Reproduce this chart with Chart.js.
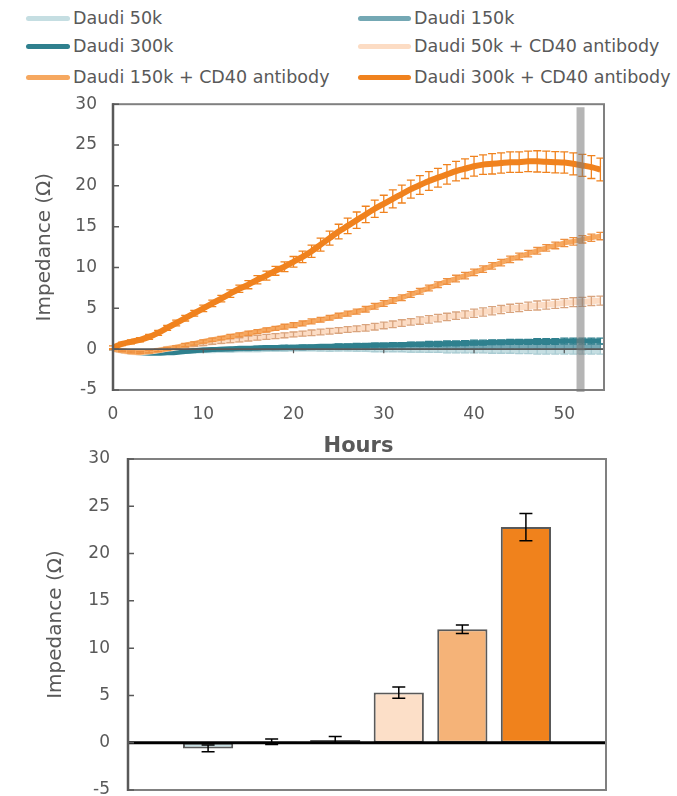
<!DOCTYPE html>
<html><head><meta charset="utf-8">
<script src="https://cdn.jsdelivr.net/npm/chart.js@4.4.1/dist/chart.umd.min.js"></script>
<style>
html,body{margin:0;padding:0;background:#fff;width:677px;height:796px;overflow:hidden;position:relative;font-family:"DejaVu Sans",sans-serif;}
#legend{position:absolute;left:0;top:0;width:677px;height:95px;}
.li{position:absolute;height:20px;display:flex;align-items:center;font-size:17.5px;color:#595959;white-space:nowrap;}
.li .sw{display:inline-block;height:5px;border-radius:3px;margin-right:3px;}
#c1{position:absolute;left:0;top:78px;}
#c2{position:absolute;left:0;top:430px;}
</style></head><body>
<div id="legend"></div>
<canvas id="c1" width="677" height="382"></canvas>
<canvas id="c2" width="677" height="420"></canvas>
<script>
// ---------- DATA ----------
const hours = [0,1,2,3,4,5,6,7,8,9,10,11,12,13,14,15,16,17,18,19,20,21,22,23,24,25,26,27,28,29,30,31,32,33,34,35,36,37,38,39,40,41,42,43,44,45,46,47,48,49,50,51,52,53,54];
const seriesNames = ["Daudi 50k","Daudi 150k","Daudi 300k","Daudi 50k + CD40 antibody","Daudi 150k + CD40 antibody","Daudi 300k + CD40 antibody"];
const seriesColors = ["#C5DEE2","#74A8B4","#2F808E","#FCDCC4","#F6A860","#F0821E"];
const errorColors = ["#A9CBD2","#5F98A5","#2F808E","#D9A47E","#EE9040","#F0821E"];

const daudi50k = [0,-0.2,-0.35,-0.4,-0.4,-0.4,-0.35,-0.3,-0.3,-0.25,
  -0.2,-0.2,-0.15,-0.15,-0.1,-0.1,-0.1,-0.05,-0.05,-0.05,
  0,0,0,0,-0.05,0,0,-0.05,-0.05,-0.1,
  -0.1,-0.1,-0.1,-0.15,-0.15,-0.15,-0.15,-0.2,-0.2,-0.2,
  -0.2,-0.2,-0.25,-0.25,-0.25,-0.25,-0.25,-0.3,-0.3,-0.3,
  -0.3,-0.3,-0.3,-0.3,-0.3];
const daudi150k = [0,-0.2,-0.35,-0.4,-0.4,-0.35,-0.3,-0.25,-0.2,-0.15,
  -0.1,-0.05,0,0,0.05,0.05,0.1,0.1,0.1,0.15,
  0.15,0.15,0.2,0.2,0.2,0.2,0.2,0.25,0.25,0.25,
  0.25,0.25,0.25,0.3,0.3,0.3,0.25,0.3,0.3,0.3,
  0.3,0.35,0.3,0.3,0.35,0.3,0.3,0.35,0.3,0.3,
  0.3,0.3,0.25,0.3,0.3];
const daudi300k = [0,-0.2,-0.35,-0.45,-0.5,-0.5,-0.45,-0.4,-0.3,-0.2,
  -0.1,-0.05,0,0.05,0.1,0.1,0.15,0.2,0.2,0.25,
  0.25,0.3,0.3,0.35,0.35,0.4,0.4,0.45,0.45,0.5,
  0.5,0.55,0.55,0.6,0.6,0.65,0.65,0.7,0.7,0.75,
  0.8,0.8,0.85,0.85,0.9,0.9,0.9,0.95,0.95,0.95,
  1.0,1.0,1.0,1.0,1.0];
const daudi50kCD40 = [0,-0.2,-0.35,-0.4,-0.3,-0.15,0.05,0.2,0.4,0.55,
  0.7,0.85,0.95,1.05,1.15,1.3,1.4,1.5,1.6,1.7,
  1.8,1.9,2.0,2.1,2.2,2.3,2.4,2.5,2.6,2.75,
  2.9,3.05,3.2,3.35,3.5,3.65,3.8,3.95,4.1,4.25,
  4.4,4.55,4.7,4.85,5.0,5.1,5.25,5.35,5.45,5.55,
  5.65,5.75,5.8,5.9,5.95];
const daudi150kCD40 = [0,-0.2,-0.35,-0.4,-0.3,-0.15,0.05,0.25,0.5,0.7,
  0.95,1.15,1.35,1.55,1.75,1.95,2.15,2.35,2.55,2.75,
  2.95,3.15,3.4,3.6,3.85,4.1,4.35,4.6,4.9,5.25,
  5.6,5.95,6.3,6.7,7.1,7.5,7.9,8.3,8.65,9.0,
  9.4,9.8,10.2,10.6,11.0,11.35,11.7,12.05,12.4,12.7,
  13.0,13.2,13.45,13.65,13.85];
const daudi300kCD40 = [0.2,0.65,0.9,1.15,1.5,2.0,2.6,3.2,3.8,4.4,
  5.0,5.6,6.2,6.8,7.4,7.9,8.5,9.0,9.6,10.1,
  10.7,11.3,12.0,12.8,13.6,14.4,15.1,15.8,16.5,17.2,
  17.8,18.4,19.0,19.6,20.1,20.6,21.0,21.4,21.8,22.1,
  22.4,22.6,22.7,22.8,22.9,22.9,23.0,23.0,22.95,22.9,
  22.85,22.7,22.5,22.3,22.0];

const err50k = [0.05,0.1,0.1,0.1,0.1,0.1,0.1,0.1,0.1,0.1,
  0.1,0.1,0.1,0.15,0.15,0.15,0.15,0.15,0.15,0.15,
  0.15,0.15,0.15,0.2,0.2,0.2,0.2,0.2,0.2,0.2,
  0.2,0.2,0.2,0.2,0.2,0.25,0.25,0.25,0.25,0.25,
  0.25,0.25,0.25,0.25,0.25,0.3,0.3,0.3,0.3,0.3,
  0.3,0.3,0.3,0.3,0.3];
const err150k = [0.05,0.1,0.1,0.1,0.1,0.1,0.1,0.1,0.1,0.1,
  0.1,0.1,0.15,0.15,0.15,0.15,0.15,0.15,0.15,0.15,
  0.15,0.2,0.2,0.2,0.2,0.2,0.2,0.2,0.2,0.2,
  0.2,0.2,0.2,0.25,0.25,0.25,0.25,0.25,0.25,0.25,
  0.25,0.25,0.25,0.3,0.3,0.3,0.3,0.3,0.3,0.3,
  0.3,0.3,0.3,0.3,0.3];
const err300k = [0.05,0.1,0.1,0.1,0.1,0.1,0.1,0.1,0.1,0.15,
  0.15,0.15,0.15,0.15,0.15,0.15,0.2,0.2,0.2,0.2,
  0.2,0.2,0.2,0.2,0.2,0.25,0.25,0.25,0.25,0.25,
  0.25,0.25,0.25,0.25,0.25,0.3,0.3,0.3,0.3,0.3,
  0.3,0.3,0.3,0.3,0.3,0.3,0.3,0.35,0.35,0.35,
  0.35,0.35,0.35,0.35,0.35];
const err50kCD40 = [0.05,0.1,0.1,0.15,0.15,0.15,0.2,0.2,0.2,0.2,
  0.25,0.25,0.25,0.25,0.25,0.3,0.3,0.3,0.3,0.3,
  0.3,0.3,0.35,0.35,0.35,0.35,0.35,0.35,0.4,0.4,
  0.4,0.4,0.4,0.4,0.45,0.45,0.45,0.45,0.45,0.45,
  0.5,0.5,0.5,0.5,0.5,0.5,0.5,0.55,0.55,0.55,
  0.55,0.55,0.55,0.55,0.55];
const err150kCD40 = [0.05,0.1,0.1,0.1,0.15,0.15,0.15,0.15,0.2,0.2,
  0.2,0.2,0.2,0.25,0.25,0.25,0.25,0.25,0.25,0.3,
  0.3,0.3,0.3,0.3,0.3,0.3,0.3,0.3,0.35,0.35,
  0.35,0.35,0.35,0.35,0.35,0.35,0.35,0.35,0.4,0.4,
  0.4,0.4,0.4,0.4,0.4,0.4,0.4,0.4,0.4,0.4,
  0.45,0.45,0.45,0.45,0.45];
const err300kCD40 = [0.2,0.2,0.25,0.25,0.3,0.3,0.3,0.35,0.35,0.35,
  0.4,0.4,0.4,0.45,0.45,0.5,0.5,0.55,0.55,0.6,
  0.65,0.7,0.75,0.8,0.85,0.9,0.95,1.0,1.0,1.05,
  1.05,1.1,1.1,1.1,1.15,1.15,1.15,1.2,1.2,1.2,
  1.2,1.2,1.25,1.25,1.25,1.25,1.25,1.3,1.3,1.3,
  1.3,1.35,1.35,1.4,1.4];

const markerHour = 51.8;

const barCategories = ["Daudi 50k","Daudi 150k","Daudi 300k","Daudi 50k + CD40 antibody","Daudi 150k + CD40 antibody","Daudi 300k + CD40 antibody"];
const barValues = [-0.6, 0.1, 0.3, 5.3, 12.0, 22.8];
const barErrors = [0.35, 0.3, 0.35, 0.6, 0.45, 1.45];
const barColors = ["#C4DDE1","#74A8B3","#2F6F7C","#FCDFC8","#F5B378","#F0821C"];

const yTicks = {min:-5, max:30, step:5};
const xTicks = {min:0, max:54.4, step:10};

// ---------- LEGEND (HTML) ----------
const legendEl = document.getElementById('legend');
const legCols = [{sw:26, w:44}, {sw:358, w:53}], legRows = [18, 46, 77];
seriesNames.forEach((n,i)=>{
  const c = legCols[i%2];
  const d = document.createElement('div');
  d.className='li';
  d.style.left = c.sw+'px';
  d.style.top = (legRows[Math.floor(i/2)]-10)+'px';
  const sw = document.createElement('span'); sw.className='sw';
  sw.style.background=seriesColors[i]; sw.style.width=c.w+'px';
  d.appendChild(sw);
  d.appendChild(document.createTextNode(n));
  legendEl.appendChild(d);
});

// ---------- PLUGINS ----------
const errorBars = {
  id:'errorBars',
  afterDatasetDraw(chart, args){
    const ds = chart.data.datasets[args.index];
    if(!ds.errs) return;
    const y = chart.scales.y, ctx = chart.ctx;
    ctx.save();
    ctx.strokeStyle = ds.errColor; ctx.lineWidth = ds.errWidth;
    ctx.beginPath();
    args.meta.data.forEach((el,i)=>{
      const raw = ds.data[i]; const v = (typeof raw==='object')? raw.y : raw;
      const e = ds.errs[i]; if(e==null) return;
      const px = el.x, yt = y.getPixelForValue(v+e), yb = y.getPixelForValue(v-e), hw = ds.capWidth/2;
      ctx.moveTo(px,yt); ctx.lineTo(px,yb);
      ctx.moveTo(px-hw,yt); ctx.lineTo(px+hw,yt);
      ctx.moveTo(px-hw,yb); ctx.lineTo(px+hw,yb);
    });
    ctx.stroke(); ctx.restore();
  }
};
const frame = {
  id:'frame',
  afterDatasetsDraw(chart, args, o){
    const {ctx, chartArea:a, scales:{x,y}} = chart;
    ctx.save();
    const y0 = y.getPixelForValue(0);
    ctx.strokeStyle = o.zeroColor; ctx.lineWidth = o.zeroWidth;
    ctx.beginPath(); ctx.moveTo(a.left,y0); ctx.lineTo(a.right,y0); ctx.stroke();
    if(o.xTickMarks){
      ctx.lineWidth = 1.2; ctx.beginPath();
      x.ticks.forEach(t=>{const px=x.getPixelForValue(t.value); ctx.moveTo(px,y0); ctx.lineTo(px,y0+4);});
      ctx.stroke();
    }
    ctx.strokeStyle = o.boxColor; ctx.lineWidth = 2;
    ctx.strokeRect(a.left, a.top, a.right-a.left, a.bottom-a.top);
    ctx.strokeStyle = o.axisColor; ctx.lineWidth = 2.5;
    ctx.beginPath(); ctx.moveTo(a.left,a.top-1); ctx.lineTo(a.left,a.bottom+1); ctx.stroke();
    ctx.lineWidth = 1.5; ctx.beginPath();
    y.ticks.forEach(t=>{const py=y.getPixelForValue(t.value); ctx.moveTo(a.left,py); ctx.lineTo(a.left+6,py);});
    ctx.stroke();
    if(o.marker!=null){
      const mx = x.getPixelForValue(o.marker);
      ctx.strokeStyle='rgba(120,120,120,0.55)'; ctx.lineWidth=8;
      ctx.beginPath(); ctx.moveTo(mx,a.top+3); ctx.lineTo(mx,a.bottom+2); ctx.stroke();
    }
    ctx.restore();
  }
};

Chart.defaults.font.family = '"DejaVu Sans", sans-serif';
Chart.defaults.color = '#595959';
Chart.defaults.animation = false;

// ---------- LINE CHART ----------
const seriesData = [daudi50k, daudi150k, daudi300k, daudi50kCD40, daudi150kCD40, daudi300kCD40];
const seriesErrs = [err50k, err150k, err300k, err50kCD40, err150kCD40, err300kCD40];
const lineWidths = [5,5,5,6,5,6];
new Chart(document.getElementById('c1'), {
  type:'line',
  data:{ datasets: seriesNames.map((n,i)=>({
    label:n,
    data: hours.map((h,k)=>({x:h, y:seriesData[i][k]})),
    borderColor: seriesColors[i], backgroundColor: seriesColors[i],
    borderWidth: lineWidths[i], pointRadius:0, tension:0.25, fill:false,
    order: 5-i,
    errs: seriesErrs[i], errColor: errorColors[i], errWidth: 1.3, capWidth: 8
  }))},
  options:{
    responsive:false, devicePixelRatio:1,
    layout:{padding:{top:10,right:73,left:0,bottom:0}},
    plugins:{legend:{display:false}, tooltip:{enabled:false},
      frame:{zeroColor:'#595959', zeroWidth:1.6, boxColor:'#808080', axisColor:'#595959', xTickMarks:true, marker:markerHour}},
    scales:{
      x:{type:'linear', min:xTicks.min, max:xTicks.max,
        ticks:{stepSize:xTicks.step, includeBounds:false, padding:14, font:{size:17}, color:'#595959', maxRotation:0},
        grid:{display:false, drawTicks:false}, border:{display:false},
        title:{display:true, text:'Hours', font:{size:21, weight:'bold'}, color:'#595959', padding:{top:0,bottom:1}},
        afterFit(s){ s.height = 70; }
      },
      y:{min:yTicks.min, max:yTicks.max,
        ticks:{stepSize:yTicks.step, padding:16, font:{size:17}, color:'#595959'},
        grid:{display:false, drawTicks:false}, border:{display:false},
        title:{display:true, text:'Impedance (Ω)', font:{size:20}, color:'#595959', padding:{top:33,bottom:0}},
        afterFit(s){ s.width = 113; }
      }
    }
  },
  plugins:[errorBars, frame]
});

// ---------- BAR CHART ----------
new Chart(document.getElementById('c2'), {
  type:'bar',
  data:{ datasets:[{
    label:'Impedance',
    data: barValues.map((v,i)=>({x:i+1, y:v})),
    backgroundColor: barColors, borderColor:'#595959', borderWidth:2, borderSkipped:false,
    barPercentage:0.79, categoryPercentage:1,
    errs: barErrors, errColor:'#000000', errWidth:1.5, capWidth:13
  }]},
  options:{
    responsive:false, devicePixelRatio:1,
    layout:{padding:{top:29,right:71,left:0,bottom:60}},
    plugins:{legend:{display:false}, tooltip:{enabled:false},
      frame:{zeroColor:'#000000', zeroWidth:3, boxColor:'#808080', axisColor:'#595959', xTickMarks:false, marker:null}},
    scales:{
      x:{type:'linear', min:-0.26, max:7.26, offset:false, display:false, grid:{display:false}},
      y:{min:yTicks.min, max:yTicks.max,
        ticks:{stepSize:yTicks.step, padding:18, font:{size:17}, color:'#595959'},
        grid:{display:false, drawTicks:false}, border:{display:false},
        title:{display:true, text:'Impedance (Ω)', font:{size:20}, color:'#595959', padding:{top:44,bottom:0}},
        afterFit(s){ s.width = 128; }
      }
    }
  },
  plugins:[errorBars, frame]
});
</script>
</body></html>
